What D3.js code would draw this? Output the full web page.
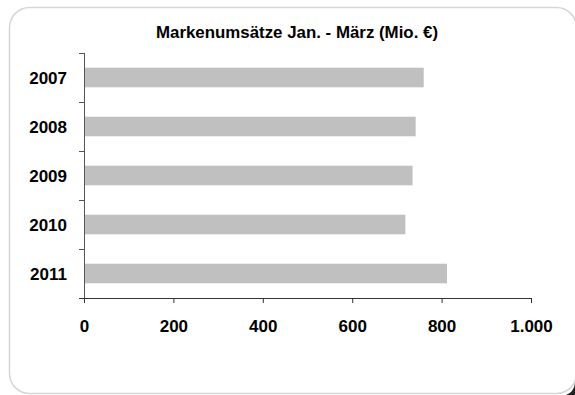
<!DOCTYPE html>
<html>
<head>
<meta charset="utf-8">
<script src="https://cdn.jsdelivr.net/npm/d3@7"></script>
<style>
  body { margin: 0; background: #fff; }
  svg text { font-family: "Liberation Sans", Arial, sans-serif; font-weight: bold; fill: #000; }
</style>
</head>
<body>
<div id="chart"></div>
<script>
const years = ["2007", "2008", "2009", "2010", "2011"];
const umsatz = [760, 742, 735, 719, 812];
const xTicks = [0, 200, 400, 600, 800, 1000];
const title = "Markenumsätze Jan. - März (Mio. €)";

const width = 575, height = 395;
const margin = {top: 53, left: 84, right: 44, bottom: 97};

const svg = d3.select("#chart")
    .append("svg")
    .attr("width", width)
    .attr("height", height);

// frame (right edge falls just outside the picture)
svg.append("rect")
    .attr("x", 9.5).attr("y", 7.5)
    .attr("width", 567).attr("height", 386)
    .attr("rx", 20)
    .attr("fill", "#fff")
    .attr("stroke", "#d6d6d6")
    .attr("stroke-width", 1.5);
// dark corner shadow bottom right
svg.append("path")
    .attr("d", "M575,383 Q574,392 566,395 L575,395 Z")
    .attr("fill", "#222");

svg.append("text")
    .attr("x", 297).attr("y", 38)
    .attr("text-anchor", "middle")
    .attr("textLength", 282)
    .attr("lengthAdjust", "spacingAndGlyphs")
    .style("font-size", "16.5px")
    .text(title);

const x = d3.scaleLinear()
    .domain([0, 1000])
    .range([margin.left, width - margin.right]);

const y = d3.scaleBand()
    .domain(years)
    .range([margin.top, height - margin.bottom])
    .paddingInner(0.6)
    .paddingOuter(0.3);

svg.selectAll(".bar")
    .data(years.map((d, i) => ({year: d, value: umsatz[i]})))
    .enter()
    .append("rect")
    .attr("class", "bar")
    .attr("x", x(0))
    .attr("y", d => y(d.year))
    .attr("width", d => x(d.value) - x(0))
    .attr("height", y.bandwidth())
    .attr("fill", "#c0c0c0");

// y axis with ticks between categories
const yBottom = height - margin.bottom;
const step = (yBottom - margin.top) / years.length;
const yAxis = svg.append("g");
yAxis.append("line")
    .attr("x1", x(0) + 0.5).attr("x2", x(0) + 0.5)
    .attr("y1", margin.top).attr("y2", yBottom)
    .attr("stroke", "#555");
yAxis.selectAll(".ytick")
    .data(d3.range(years.length + 1))
    .enter()
    .append("line")
    .attr("x1", x(0) - 5).attr("x2", x(0))
    .attr("y1", i => Math.round(margin.top + i * step) + 0.5)
    .attr("y2", i => Math.round(margin.top + i * step) + 0.5)
    .attr("stroke", "#555");
yAxis.selectAll(".ylab")
    .data(years)
    .enter()
    .append("text")
    .attr("x", 67)
    .attr("y", d => y(d) + y.bandwidth() / 2)
    .attr("dy", "0.36em")
    .attr("text-anchor", "end")
    .style("font-size", "17px")
    .text(d => d);

// x axis
const xAxis = svg.append("g")
    .attr("transform", `translate(0,${yBottom})`)
    .call(d3.axisBottom(x)
        .tickValues(xTicks)
        .tickSize(5)
        .tickFormat(d => d3.format(",")(d).replace(",", ".")));
xAxis.select(".domain").attr("stroke", "#333").attr("d", `M${x(0) - 5},0.5H${x(1000)}`);
xAxis.selectAll(".tick line").attr("stroke", "#333");
xAxis.selectAll(".tick text")
    .attr("y", 34)
    .attr("dy", "0")
    .style("font-size", "17px")
    .style("font-family", "Liberation Sans, Arial, sans-serif")
    .style("font-weight", "bold")
    .attr("fill", "#000");
</script>
</body>
</html>
